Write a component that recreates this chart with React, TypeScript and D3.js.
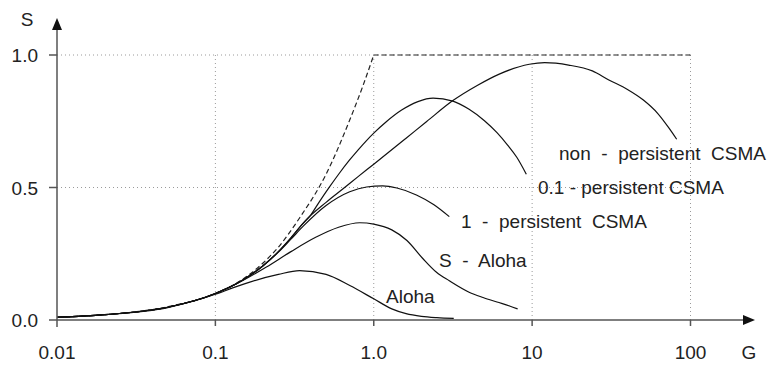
import React from 'react';
import * as d3 from 'd3';

// Offered load G (log axis) and throughput S for each access scheme
const xTicks = [0.01, 0.1, 1, 10, 100];
const xTickLabels = ['0.01', '0.1', '1.0', '10', '100'];
const yTicks = [0, 0.5, 1];
const yTickLabels = ['0.0', '0.5', '1.0'];

// ideal channel: rises until the channel is saturated, then flat
const idealRiseG = [0.01, 0.02, 0.05, 0.1, 0.15, 0.2, 0.25, 0.34, 0.5, 0.7, 0.85, 1.0];
const idealRiseS = [0.01, 0.02, 0.05, 0.1, 0.155, 0.215, 0.275, 0.385, 0.55, 0.75, 0.88, 1.0];
const idealFlatG = [1.0, 100];
const idealFlatS = [1.0, 1.0];

const nonPersistentG = [0.01, 0.02, 0.05, 0.1, 0.15, 0.2, 0.25, 0.3, 0.37, 0.5, 0.64, 0.8, 1.0, 1.23, 1.6, 2.15, 3.16, 4.5, 6.2, 9.6, 12, 17, 24, 30.5, 40, 50.4, 62, 73.4, 81.8];
const nonPersistentS = [0.01, 0.02, 0.048, 0.1, 0.152, 0.205, 0.258, 0.31, 0.375, 0.444, 0.495, 0.542, 0.588, 0.631, 0.686, 0.748, 0.828, 0.885, 0.928, 0.965, 0.971, 0.962, 0.94, 0.906, 0.87, 0.83, 0.78, 0.723, 0.682];

const p01PersistentG = [0.01, 0.02, 0.05, 0.1, 0.15, 0.2, 0.25, 0.3, 0.35, 0.4, 0.45, 0.527, 0.6, 0.7, 0.8, 0.9, 1.0, 1.2, 1.5, 1.9, 2.37, 3.16, 4.0, 5.0, 6.0, 7.0, 8.0, 9.19];
const p01PersistentS = [0.01, 0.02, 0.048, 0.1, 0.152, 0.205, 0.258, 0.31, 0.358, 0.396, 0.443, 0.503, 0.55, 0.602, 0.643, 0.677, 0.705, 0.748, 0.792, 0.824, 0.837, 0.826, 0.795, 0.752, 0.707, 0.66, 0.614, 0.55];

const p1PersistentG = [0.01, 0.02, 0.05, 0.1, 0.15, 0.2, 0.25, 0.3, 0.36, 0.5, 0.705, 0.9, 1.14, 1.4, 1.86, 2.4, 3.0];
const p1PersistentS = [0.01, 0.02, 0.048, 0.1, 0.152, 0.205, 0.256, 0.305, 0.355, 0.432, 0.484, 0.502, 0.506, 0.498, 0.472, 0.435, 0.39];

const slottedAlohaG = [0.01, 0.02, 0.05, 0.1, 0.15, 0.21, 0.3, 0.43, 0.6, 0.816, 1.0, 1.3, 1.62, 2.04, 2.49, 3.0, 4.0, 4.9, 6.0, 7.2, 8.1];
const slottedAlohaS = [0.01, 0.02, 0.048, 0.1, 0.15, 0.2, 0.258, 0.312, 0.35, 0.367, 0.362, 0.34, 0.3, 0.232, 0.18, 0.148, 0.105, 0.085, 0.068, 0.053, 0.042];

const alohaG = [0.01, 0.02, 0.05, 0.1, 0.13, 0.165, 0.25, 0.34, 0.5, 0.706, 1.0, 1.3, 1.6, 2.0, 2.5, 3.2];
const alohaS = [0.01, 0.02, 0.047, 0.097, 0.122, 0.143, 0.172, 0.186, 0.172, 0.13, 0.08, 0.042, 0.024, 0.014, 0.009, 0.006];

const seriesNames = [
  'non  -  persistent  CSMA',
  '0.1 - persistent CSMA',
  '1  -  persistent  CSMA',
  'S  -  Aloha',
  'Aloha',
];

type Pt = { g: number; s: number };
const zip = (g: number[], s: number[]): Pt[] => g.map((v, i) => ({ g: v, s: s[i] }));

const W = 777;
const H = 365;
const FONT = "'Liberation Sans', Arial, Helvetica, sans-serif";
const AXIS = '#555';
const GRID = '#9a9a9a';

export default function App() {
  const x = d3.scaleLog().domain([0.01, 100]).range([57, 690.5]);
  const y = d3.scaleLinear().domain([0, 1]).range([320, 55]);

  const smooth = d3
    .line<Pt>()
    .x((d) => x(d.g))
    .y((d) => y(d.s))
    .curve(d3.curveMonotoneX);
  const straight = d3
    .line<Pt>()
    .x((d) => x(d.g))
    .y((d) => y(d.s));

  const curves = [
    zip(nonPersistentG, nonPersistentS),
    zip(p01PersistentG, p01PersistentS),
    zip(p1PersistentG, p1PersistentS),
    zip(slottedAlohaG, slottedAlohaS),
    zip(alohaG, alohaS),
  ];

  // label anchors (left edge, baseline)
  const labelPos: [number, number][] = [
    [559, 160],
    [538, 194],
    [461, 228],
    [439, 267],
    [386, 303],
  ];

  const x0 = x(0.01);
  const y0 = y(0);
  const xEnd = x(100);
  const yTop = y(1);

  return (
    <svg
      width={W}
      height={H}
      viewBox={`0 0 ${W} ${H}`}
      style={{ position: 'absolute', left: 0, top: 0, background: '#fff' }}
    >
      <rect x={0} y={0} width={W} height={H} fill="#fff" />

      {/* dotted grid */}
      <g stroke={GRID} strokeWidth={1} strokeDasharray="1,3" fill="none">
        {yTicks
          .filter((t) => t > 0)
          .map((t) => (
            <line key={'gy' + t} x1={x0} x2={xEnd} y1={y(t)} y2={y(t)} />
          ))}
        {xTicks
          .filter((t) => t > 0.01)
          .map((t) => (
            <line key={'gx' + t} x1={x(t)} x2={x(t)} y1={yTop} y2={y0} />
          ))}
      </g>

      {/* ideal channel */}
      <g stroke="#222" strokeWidth={1.2} strokeDasharray="5,3" fill="none">
        <path d={smooth(zip(idealRiseG, idealRiseS)) || ''} />
        <path d={straight(zip(idealFlatG, idealFlatS)) || ''} />
      </g>

      {/* throughput curves */}
      <g stroke="#111" strokeWidth={1.2} fill="none">
        {curves.map((c, i) => (
          <path key={'c' + i} d={smooth(c) || ''} />
        ))}
      </g>

      {/* axes */}
      <g stroke={AXIS} strokeWidth={1.5} fill="none">
        <line x1={x0 - 8} x2={745} y1={y0} y2={y0} />
        <line x1={x0} x2={x0} y1={y0 + 7} y2={30} />
        {xTicks
          .filter((t) => t > 0.01)
          .map((t) => (
            <line key={'tx' + t} x1={x(t)} x2={x(t)} y1={y0} y2={y0 + 6} />
          ))}
        {yTicks
          .filter((t) => t > 0)
          .map((t) => (
            <line key={'ty' + t} x1={x0 - 8} x2={x0} y1={y(t)} y2={y(t)} />
          ))}
      </g>
      <path d={`M755,${y0} L743,${y0 - 5} L743,${y0 + 5} Z`} fill="#111" />
      <path d={`M${x0},18 L${x0 - 5},30 L${x0 + 5},30 Z`} fill="#111" />

      {/* tick labels */}
      <g fontFamily={FONT} fontSize={19} fill="#222">
        {xTicks.map((t, i) => (
          <text key={'lx' + t} x={x(t)} y={359} textAnchor="middle">
            {xTickLabels[i]}
          </text>
        ))}
        {yTicks.map((t, i) => (
          <text key={'ly' + t} x={38} y={y(t) + 7} textAnchor="end">
            {yTickLabels[i]}
          </text>
        ))}
        <text x={749} y={359} textAnchor="middle">G</text>
        <text x={27} y={26} textAnchor="middle">S</text>
      </g>

      {/* series labels */}
      <g fontFamily={FONT} fontSize={19} fill="#222">
        {seriesNames.map((n, i) => (
          <text key={'sn' + i} x={labelPos[i][0]} y={labelPos[i][1]} style={{ whiteSpace: 'pre' }}>
            {n}
          </text>
        ))}
      </g>
    </svg>
  );
}
